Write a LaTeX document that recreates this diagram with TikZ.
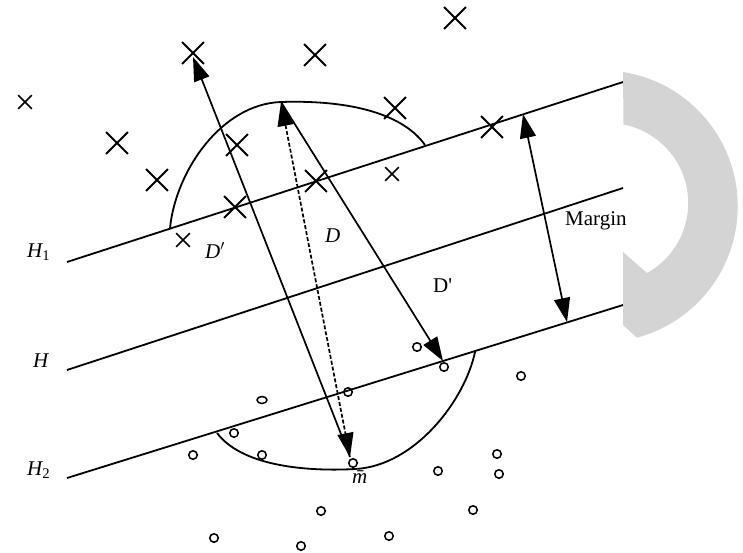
\documentclass[tikz,border=0pt]{standalone}
\usepackage{fontspec}
\setmainfont{Liberation Serif}
\usetikzlibrary{arrows.meta, shapes.misc, shapes.geometric}
\definecolor{bandgray}{gray}{0.83}

\begin{document}
\begin{tikzpicture}[x=1pt, y=-1pt,
        every node/.style = {font=\fontsize{21}{24}\selectfont},
        xpoint/.style = {draw, cross out, line width=1.8pt, minimum size=20pt, inner sep=0pt},
        xsmall/.style = {draw, cross out, line width=1.6pt, minimum size=12pt, inner sep=0pt},
        opoint/.style = {draw, circle, line width=1.5pt, minimum size=8.5pt, inner sep=0pt},
        plane/.style = {line width=1.8pt},
        vec/.style = {line width=1.7pt},
        >={Triangle[length=24pt, width=16pt]},
    ]
        \useasboundingbox (0,0) rectangle (743,552);

        \coordinate (h1a) at (67,262);  \coordinate (h1b) at (623,82);
        \coordinate (ha)  at (67,370);  \coordinate (hb)  at (623,188);
        \coordinate (h2a) at (67,478);  \coordinate (h2b) at (623,305);
        \draw[plane] (h1a) -- (h1b);
        \draw[plane] (ha) -- (hb);
        \draw[plane] (h2a) -- (h2b);

        \fill[bandgray] (623,72) arc[start angle=81, end angle=-75, radius=136pt] -- (623,325) -- (623,252) -- (647,273) arc[start angle=-61, end angle=79, radius=80pt] -- cycle;

        \coordinate (apex) at (281,102);
        \coordinate (cupl) at (170,228);
        \coordinate (cupr) at (425,145);
        \coordinate (clol) at (217,433);
        \coordinate (clob) at (355,469);
        \coordinate (clor) at (475,352);
        \draw[plane] (cupl) .. controls (176,170) and (222,104) .. (apex) .. controls (340,100) and (400,110) .. (cupr);
        \draw[plane] (clol) .. controls (245,470) and (320,471) .. (clob) .. controls (415,466) and (465,400) .. (clor);

        \foreach \p [count=\i] in {(193,53),(315,55),(455,18),(117,143),(157,180),(237,145),(395,108),(492,127),(235,207),(316,181)}
            \node[xpoint] (x\i) at \p {};
        \foreach \p [count=\i] in {(25,102),(183,240),(392,174)}
            \node[xsmall] (s\i) at \p {};
        \foreach \p [count=\i] in {(234,433),(193,455),(262,455),(348,392),(353,463),(321,511),(214,538),(301,546),(417,347),(444,367),(521,376),(497,454),(499,474),(438,471),(473,510),(389,536)}
            \node[opoint] (o\i) at \p {};
        \node[draw, ellipse, line width=1.5pt, minimum width=10pt, minimum height=7pt, inner sep=0pt] (oflat) at (262,400) {};

        \coordinate (ptop) at (193,57);
        \coordinate (mbar) at (350,457);
        \coordinate (hit)  at (443,361);
        \coordinate (mgt)  at (523,114);
        \coordinate (mgb)  at (567,322);
        \draw[vec, <->, dash pattern=on 4pt off 2pt] (apex) -- (mbar);
        \draw[vec, ->] (mbar) -- (ptop);
        \draw[vec, ->] (apex) -- (hit);
        \draw[vec, <->] (mgt) -- (mgb);

        \node[anchor=base west, inner sep=0pt] (lh1) at (27,257) {{\itshape H}\textsubscript{1}};
        \node[anchor=base west, inner sep=0pt] (lh)  at (33,367) {\itshape H};
        \node[anchor=base west, inner sep=0pt] (lh2) at (27,475) {{\itshape H}\textsubscript{2}};
        \node[anchor=base west, inner sep=0pt] (ldl) at (205,258) {\itshape D$'$};
        \node[anchor=base west, inner sep=0pt] (ld)  at (325,242) {\itshape D};
        \node[anchor=base west, inner sep=0pt] (ldr) at (433,292) {D\textquotesingle};
        \node[anchor=base west, inner sep=0pt] (lmg) at (565,225) {Margin};
        \node[anchor=base west, inner sep=0pt] (lmb) at (352,483) {\itshape \={m}};
    \end{tikzpicture}
\end{document}
